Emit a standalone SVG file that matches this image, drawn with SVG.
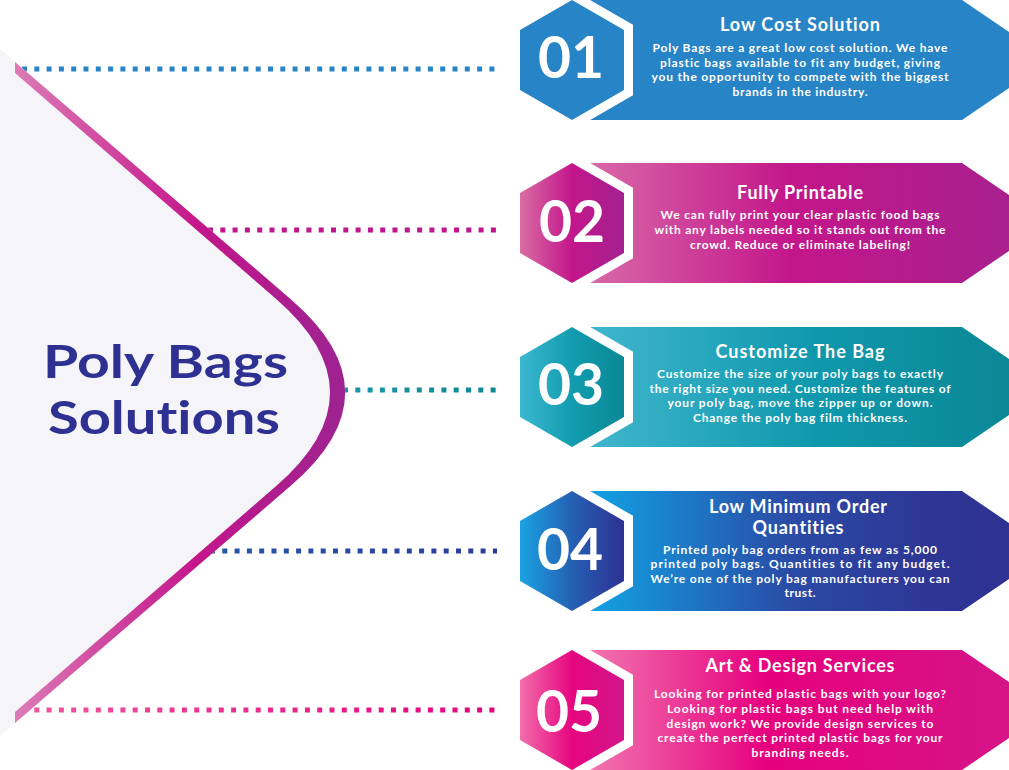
<svg xmlns="http://www.w3.org/2000/svg" xmlns:xlink="http://www.w3.org/1999/xlink" width="1009" height="770" viewBox="0 0 1009 770">
<style>
  text { font-family: Lato, "Liberation Sans", "DejaVu Sans", sans-serif; font-weight: 700; fill: #ffffff; text-anchor: middle; font-variant-ligatures: none; }
  .num { font-size: 57px; }
  .ttl { font-size: 18px; }
  .bd { font-size: 12px; }
  .main { font-size: 46px; fill: #2e3192; }
  .dots { fill: none; stroke-width: 5; stroke-dasharray: 5 7.3; }
</style>
<defs>
  <polygon id="hexOuter" points="0,-70.4 61,-35.2 61,35.2 0,70.4 -61,35.2 -61,-35.2" fill="#ffffff"/>
  <polygon id="hex" points="0,-60 52,-30 52,30 0,60 -52,30 -52,-30"/>
  <polygon id="body" points="580,0 962,0 1050,60 962,120 580,120"/>
  <linearGradient id="ringGrad" gradientUnits="userSpaceOnUse" x1="15" y1="0" x2="345" y2="0">
    <stop offset="0" stop-color="#dc7bb6"/>
    <stop offset="0.55" stop-color="#c4168b"/>
    <stop offset="1" stop-color="#9c2390"/>
  </linearGradient>
  <linearGradient id="h2" x1="0" y1="0" x2="1" y2="0">
    <stop offset="0" stop-color="#d96ca4"/>
    <stop offset="0.5" stop-color="#c3168b"/>
    <stop offset="1" stop-color="#a3218f"/>
  </linearGradient>
  <linearGradient id="b2" x1="0" y1="0" x2="1" y2="0">
    <stop offset="0" stop-color="#d96ca9"/>
    <stop offset="0.45" stop-color="#c3168b"/>
    <stop offset="1" stop-color="#a3228f"/>
  </linearGradient>
  <linearGradient id="h3" x1="0" y1="0" x2="1" y2="0">
    <stop offset="0" stop-color="#3bb7cf"/>
    <stop offset="0.5" stop-color="#129cb0"/>
    <stop offset="1" stop-color="#0a8893"/>
  </linearGradient>
  <linearGradient id="b3" x1="0" y1="0" x2="1" y2="0">
    <stop offset="0" stop-color="#42b7cf"/>
    <stop offset="0.5" stop-color="#0f98ad"/>
    <stop offset="1" stop-color="#0a8490"/>
  </linearGradient>
  <linearGradient id="h4" x1="0" y1="0" x2="1" y2="0">
    <stop offset="0" stop-color="#1ba2e2"/>
    <stop offset="0.5" stop-color="#2560b3"/>
    <stop offset="1" stop-color="#2e3192"/>
  </linearGradient>
  <linearGradient id="b4" x1="0" y1="0" x2="1" y2="0">
    <stop offset="0" stop-color="#10a6e6"/>
    <stop offset="0.45" stop-color="#2a4ba6"/>
    <stop offset="0.75" stop-color="#2e3594"/>
    <stop offset="1" stop-color="#2e3192"/>
  </linearGradient>
  <linearGradient id="h5" x1="0" y1="0" x2="1" y2="0">
    <stop offset="0" stop-color="#f26eab"/>
    <stop offset="0.5" stop-color="#e6067f"/>
    <stop offset="1" stop-color="#d2168a"/>
  </linearGradient>
  <linearGradient id="b5" x1="0" y1="0" x2="1" y2="0">
    <stop offset="0" stop-color="#f27ab1"/>
    <stop offset="0.4" stop-color="#e6007e"/>
    <stop offset="1" stop-color="#d3178a"/>
  </linearGradient>
  <linearGradient id="d5" gradientUnits="userSpaceOnUse" x1="20" y1="0" x2="497" y2="0">
    <stop offset="0" stop-color="#f0559f"/>
    <stop offset="1" stop-color="#e5007d"/>
  </linearGradient>
  <linearGradient id="d4" gradientUnits="userSpaceOnUse" x1="210" y1="0" x2="497" y2="0">
    <stop offset="0" stop-color="#2656aa"/>
    <stop offset="1" stop-color="#2d3a98"/>
  </linearGradient>
  <linearGradient id="d3" gradientUnits="userSpaceOnUse" x1="345" y1="0" x2="497" y2="0">
    <stop offset="0" stop-color="#1a98a6"/>
    <stop offset="1" stop-color="#0c8792"/>
  </linearGradient>
</defs>

<rect x="0" y="0" width="1009" height="770" fill="#ffffff"/>

<!-- connectors -->
<g id="connectors">
  <line class="dots" x1="22" y1="69" x2="497" y2="69" stroke="#2784c6"/>
  <line class="dots" x1="208" y1="230" x2="497" y2="230" stroke="#c1168b"/>
  <line class="dots" x1="343" y1="390" x2="497" y2="390" stroke="url(#d3)"/>
  <line class="dots" x1="210" y1="551" x2="497" y2="551" stroke="url(#d4)"/>
  <line class="dots" x1="22" y1="710" x2="497" y2="710" stroke="url(#d5)"/>
</g>

<!-- central node -->
<g id="center">
  <path d="M0,49 L291,299.4 Q399.3,392.5 291,485.6 L0,736 Z" fill="#f5f4f9"/>
  <path d="M15,62 L291,299.4 Q399.3,392.5 291,485.6 L15,723 L15,712 L275.6,486.6 Q384.4,392.5 275.6,298.4 L15,73 Z" fill="url(#ringGrad)"/>
  <text class="main" x="165.5" y="378" textLength="245" lengthAdjust="spacingAndGlyphs">Poly Bags</text>
  <text class="main" x="164" y="434" textLength="232" lengthAdjust="spacingAndGlyphs">Solutions</text>
</g>

<!-- node 1 -->
<g id="node-1">
  <use xlink:href="#body" href="#body" fill="#2784c6"/>
  <use xlink:href="#hexOuter" href="#hexOuter" transform="translate(572,60)"/>
  <use xlink:href="#hex" href="#hex" transform="translate(572,60)" fill="#2784c6"/>
  <text class="num" x="571" y="78">01</text>
  <text class="ttl" x="800" y="31" textLength="160">Low Cost Solution</text>
  <text class="bd" x="800" y="52" textLength="295">Poly Bags are a great low cost solution. We have</text>
  <text class="bd" x="800" y="66.5" textLength="280">plastic bags available to fit any budget, giving</text>
  <text class="bd" x="800" y="81" textLength="297">you the opportunity to compete with the biggest</text>
  <text class="bd" x="800" y="95.5" textLength="135">brands in the industry.</text>
</g>

<!-- node 2 -->
<g id="node-2">
  <use xlink:href="#body" href="#body" transform="translate(0,163)" fill="url(#b2)"/>
  <use xlink:href="#hexOuter" href="#hexOuter" transform="translate(572,223)"/>
  <use xlink:href="#hex" href="#hex" transform="translate(572,223)" fill="url(#h2)"/>
  <text class="num" x="572" y="242">02</text>
  <text class="ttl" x="800" y="199" textLength="126">Fully Printable</text>
  <text class="bd" x="800" y="219" textLength="279">We can fully print your clear plastic food bags</text>
  <text class="bd" x="800" y="234" textLength="291">with any labels needed so it stands out from the</text>
  <text class="bd" x="800" y="248.5" textLength="220">crowd. Reduce or eliminate labeling!</text>
</g>

<!-- node 3 -->
<g id="node-3">
  <use xlink:href="#body" href="#body" transform="translate(0,327)" fill="url(#b3)"/>
  <use xlink:href="#hexOuter" href="#hexOuter" transform="translate(572,387)"/>
  <use xlink:href="#hex" href="#hex" transform="translate(572,387)" fill="url(#h3)"/>
  <text class="num" x="571" y="405">03</text>
  <text class="ttl" x="800" y="358" textLength="169">Customize The Bag</text>
  <text class="bd" x="800" y="378" textLength="286">Customize the size of your poly bags to exactly</text>
  <text class="bd" x="800" y="392.5" textLength="301">the right size you need. Customize the features of</text>
  <text class="bd" x="800" y="407" textLength="265">your poly bag, move the zipper up or down.</text>
  <text class="bd" x="800" y="421.5" textLength="214">Change the poly bag film thickness.</text>
</g>

<!-- node 4 -->
<g id="node-4">
  <use xlink:href="#body" href="#body" transform="translate(0,491)" fill="url(#b4)"/>
  <use xlink:href="#hexOuter" href="#hexOuter" transform="translate(572,551)"/>
  <use xlink:href="#hex" href="#hex" transform="translate(572,551)" fill="url(#h4)"/>
  <text class="num" x="570" y="570">04</text>
  <text class="ttl" x="798" y="513" textLength="178">Low Minimum Order</text>
  <text class="ttl" x="798" y="533.5" textLength="91">Quantities</text>
  <text class="bd" x="800" y="553.5" textLength="274">Printed poly bag orders from as few as 5,000</text>
  <text class="bd" x="800" y="568" textLength="299">printed poly bags. Quantities to fit any budget.</text>
  <text class="bd" x="800" y="582.5" textLength="299">We’re one of the poly bag manufacturers you can</text>
  <text class="bd" x="800" y="597" textLength="31">trust.</text>
</g>

<!-- node 5 -->
<g id="node-5">
  <use xlink:href="#body" href="#body" transform="translate(0,650)" fill="url(#b5)"/>
  <use xlink:href="#hexOuter" href="#hexOuter" transform="translate(572,710)"/>
  <use xlink:href="#hex" href="#hex" transform="translate(572,710)" fill="url(#h5)"/>
  <text class="num" x="569" y="732">05</text>
  <text class="ttl" x="800" y="672" textLength="189">Art &amp; Design Services</text>
  <text class="bd" x="800" y="698" textLength="292">Looking for printed plastic bags with your logo?</text>
  <text class="bd" x="800" y="713" textLength="266">Looking for plastic bags but need help with</text>
  <text class="bd" x="800" y="727.5" textLength="267">design work? We provide design services to</text>
  <text class="bd" x="800" y="742" textLength="285">create the perfect printed plastic bags for your</text>
  <text class="bd" x="800" y="756.5" textLength="97">branding needs.</text>
</g>
</svg>
